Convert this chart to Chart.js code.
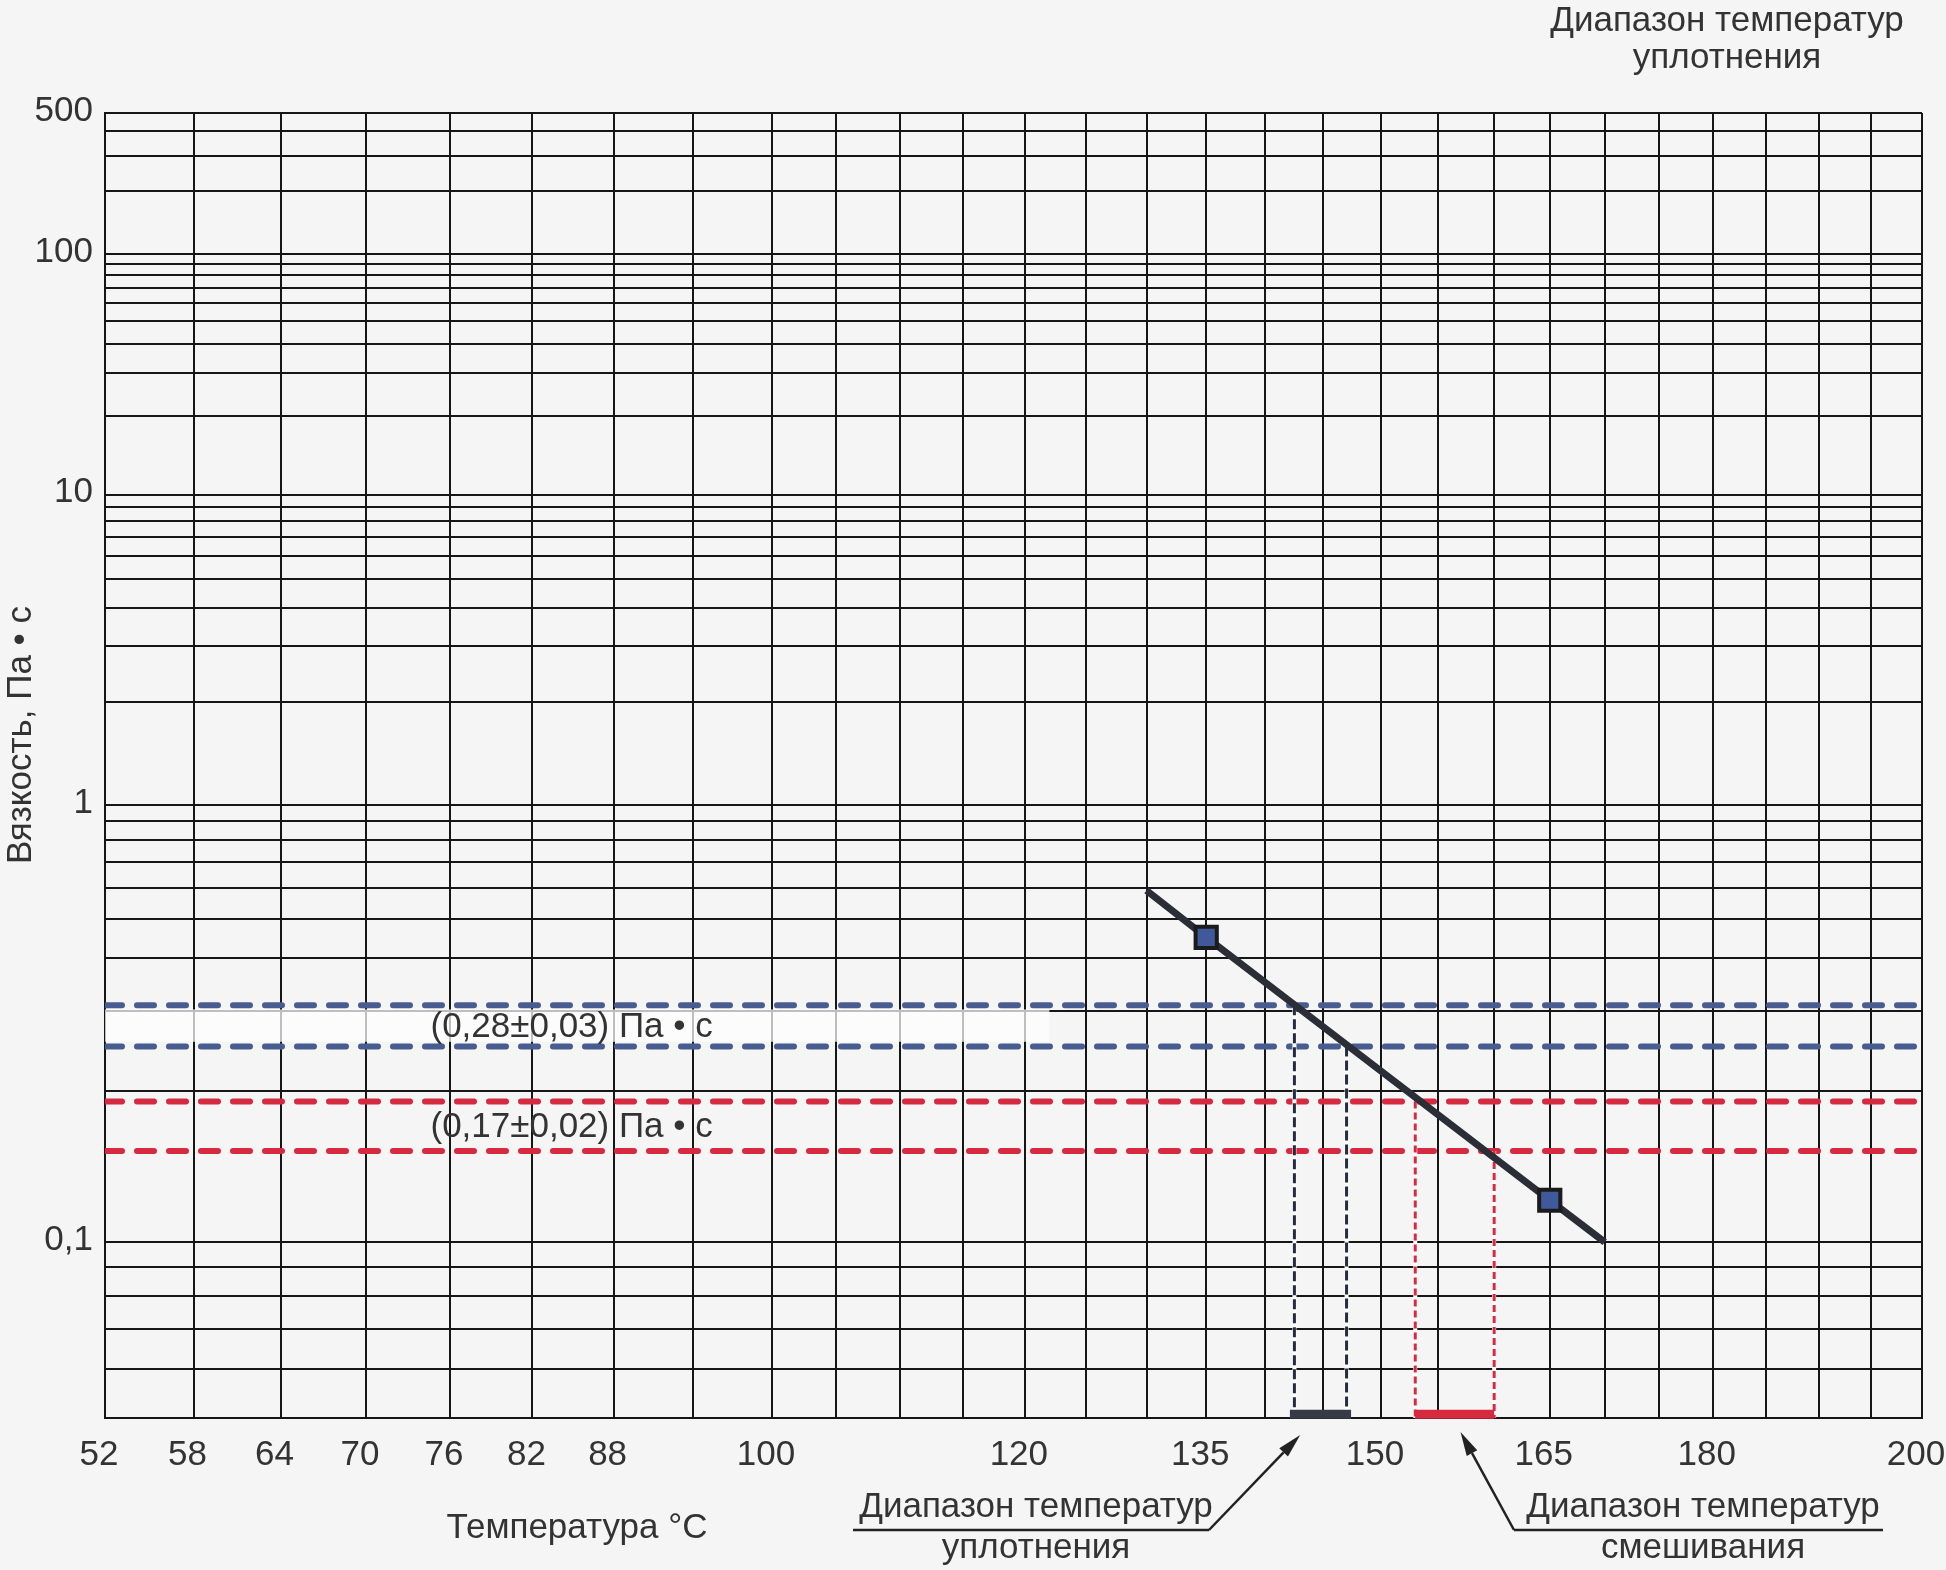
<!DOCTYPE html>
<html>
<head>
<meta charset="utf-8">
<script src="https://cdn.jsdelivr.net/npm/chart.js@4.4.0/dist/chart.umd.min.js"></script>
<style>
body { margin: 0; background: #f5f5f5; }
#wrap { width: 1946px; height: 1570px; }
</style>
</head>
<body>
<div id="wrap"><canvas id="chart" width="1946" height="1570"></canvas></div>
<script>
// grid and tick values
const gridTemps = [52, 58, 64, 70, 76, 82, 88, 94, 100, 105, 110, 115, 120, 125, 130, 135, 140, 145,
    150, 155, 160, 165, 170, 175, 180, 185, 190, 195, 200];
const tempLabels = [52, 58, 64, 70, 76, 82, 88, 100, 120, 135, 150, 165, 180, 200];
const gridVisc = [500, 400, 300, 200, 100, 90, 80, 70, 60, 50, 40, 30, 20, 10, 9, 8, 7, 6, 5, 4, 3, 2,
    1, 0.9, 0.8, 0.7, 0.6, 0.5, 0.4, 0.3, 0.2, 0.1, 0.09, 0.08, 0.07, 0.06, 0.05];
const viscLabels = [500, 100, 10, 1, 0.1];

// viscosity line (°C, Pa·s)
const lineTemps = [130, 135, 165, 170];
const lineVisc = [0.59, 0.45, 0.12, 0.1];
const pointTemps = [135, 165];
const pointVisc = [0.45, 0.12];

// target viscosity bands and the temperature ranges they give
const compactionVisc = [0.31, 0.25];
const mixingVisc = [0.19, 0.15];
const compactionTemps = [142.5, 147];
const mixingTemps = [153, 160];
const baseVisc = 0.05;
const barVisc = 0.0507;
const bandLabels = ['(0,28±0,03) Па • с', '(0,17±0,02) Па • с'];
const bandLabelVisc = [0.28, 0.17];
const bandLabelTemp = 74.6;
const labelBoxTemps = [52, 122];
const labelBoxVisc = [0.3, 0.256];
const arrowTemps = [143, 157];

// chart axes are log(T+273) and log(log(cP))
const tx = t => Math.log10(t + 273.15);
const ty = v => Math.log10(Math.log10(v * 1000));

const TEXT = '#333333';
const GRID = '#161616';
const FONT = '"Liberation Sans", Arial, sans-serif';
const FSIZE = 35;

function hLine(v, color) {
    return {
        data: [{x: tx(52), y: ty(v)}, {x: tx(200), y: ty(v)}],
        showLine: true, borderColor: color, borderWidth: 6,
        borderDash: [17, 15], borderCapStyle: 'round',
        pointRadius: 0, order: 3
    };
}
function vLine(t, v, color, dash) {
    const data = [{x: tx(t), y: ty(v)}, {x: tx(t), y: ty(baseVisc)}];
    return [
        {data: data, showLine: true, borderColor: color, borderWidth: 3, borderDash: dash,
            pointRadius: 0, order: 2},
        {data: data, showLine: true, borderColor: '#ffffff', borderWidth: 4,
            pointRadius: 0, order: 2.5}
    ];
}
function bar(temps, color, cap) {
    return {
        data: [{x: tx(temps[0]), y: ty(barVisc)}, {x: tx(temps[1]), y: ty(barVisc)}],
        showLine: true, borderColor: color, borderWidth: 9, borderCapStyle: cap,
        pointRadius: 0, clip: false, order: 1.5
    };
}

const datasets = [
    {
        data: pointTemps.map((t, i) => ({x: tx(t), y: ty(pointVisc[i])})),
        showLine: false, pointStyle: 'rect', pointRadius: 15,
        pointBackgroundColor: '#40599a', pointBorderColor: '#1b1b1b', pointBorderWidth: 4,
        order: 0
    },
    {
        data: lineTemps.map((t, i) => ({x: tx(t), y: ty(lineVisc[i])})),
        showLine: true, borderColor: '#2b2e36', borderWidth: 7, pointRadius: 0, order: 1
    },
    hLine(compactionVisc[0], '#475c8f'),
    hLine(compactionVisc[1], '#475c8f'),
    hLine(mixingVisc[0], '#d62a40'),
    hLine(mixingVisc[1], '#d62a40'),
    ...vLine(compactionTemps[0], compactionVisc[0], '#262b3f', [10, 4]),
    ...vLine(compactionTemps[1], compactionVisc[1], '#262b3f', [10, 4]),
    ...vLine(mixingTemps[0], mixingVisc[0], '#d62a40', [7, 4]),
    ...vLine(mixingTemps[1], mixingVisc[1], '#d62a40', [7, 4]),
    bar(compactionTemps, '#363b47', 'square'),
    bar(mixingTemps, '#d62a40', 'butt')
];

function drawArrow(ctx, x0, y0, x1, y1) {
    const a = Math.atan2(y1 - y0, x1 - x0);
    const len = 24, half = 6;
    const bx = x1 - len * Math.cos(a), by = y1 - len * Math.sin(a);
    ctx.beginPath();
    ctx.moveTo(x0, y0);
    ctx.lineTo(bx, by);
    ctx.stroke();
    ctx.beginPath();
    ctx.moveTo(x1, y1);
    ctx.lineTo(bx + half * Math.sin(a), by - half * Math.cos(a));
    ctx.lineTo(bx - half * Math.sin(a), by + half * Math.cos(a));
    ctx.closePath();
    ctx.fill();
}

const bgPlugin = {
    id: 'bg',
    beforeDraw(c) {
        const ctx = c.ctx;
        ctx.save();
        ctx.fillStyle = '#f5f5f5';
        ctx.fillRect(0, 0, c.width, c.height);
        ctx.restore();
    }
};

const bandPlugin = {
    id: 'band',
    beforeDatasetsDraw(c) {
        const ctx = c.ctx, xs = c.scales.x, ys = c.scales.y;
        const x0 = xs.getPixelForValue(tx(labelBoxTemps[0]));
        const x1 = xs.getPixelForValue(tx(labelBoxTemps[1]));
        const y0 = ys.getPixelForValue(ty(labelBoxVisc[0])) - 2;
        const y1 = ys.getPixelForValue(ty(labelBoxVisc[1]));
        ctx.save();
        ctx.fillStyle = 'rgba(255,255,255,0.72)';
        ctx.fillRect(x0, y0, x1 - x0, y1 - y0);
        ctx.restore();
    }
};

const notesPlugin = {
    id: 'notes',
    afterDraw(c) {
        const ctx = c.ctx, xs = c.scales.x, ys = c.scales.y;
        ctx.save();
        ctx.fillStyle = TEXT;
        ctx.strokeStyle = '#222222';
        ctx.font = FSIZE + 'px ' + FONT;
        ctx.textBaseline = 'middle';

        // band labels
        ctx.textAlign = 'left';
        bandLabels.forEach((s, i) => {
            ctx.fillText(s, xs.getPixelForValue(tx(bandLabelTemp)), ys.getPixelForValue(ty(bandLabelVisc[i])) + 3);
        });

        ctx.textAlign = 'center';
        // top-right note
        ctx.fillText('Диапазон температур', 1727, 21);
        ctx.fillText('уплотнения', 1727, 58);
        // axis titles
        ctx.fillText('Температура °C', 577, 1528);
        ctx.save();
        ctx.translate(21, 735);
        ctx.rotate(-Math.PI / 2);
        ctx.fillText('Вязкость, Па • с', 0, 0);
        ctx.restore();

        // callouts
        ctx.fillText('Диапазон температур', 1036, 1507);
        ctx.fillText('уплотнения', 1036, 1548);
        ctx.fillText('Диапазон температур', 1703, 1507);
        ctx.fillText('смешивания', 1703, 1548);

        ctx.lineWidth = 2.5;
        ctx.fillStyle = '#222222';
        const bottom = c.chartArea.bottom;
        ctx.beginPath();
        ctx.moveTo(853, 1530); ctx.lineTo(1209, 1530);
        ctx.moveTo(1514, 1530); ctx.lineTo(1883, 1530);
        ctx.stroke();
        drawArrow(ctx, 1209, 1530, xs.getPixelForValue(tx(arrowTemps[0])), bottom + 17);
        drawArrow(ctx, 1514, 1530, xs.getPixelForValue(tx(arrowTemps[1])), bottom + 14);
        ctx.restore();
    }
};

new Chart(document.getElementById('chart'), {
    type: 'scatter',
    data: {datasets: datasets},
    plugins: [bgPlugin, bandPlugin, notesPlugin],
    options: {
        responsive: false,
        animation: false,
        events: [],
        layout: {padding: {left: 0, right: 24, top: 113, bottom: 0}},
        plugins: {legend: {display: false}, tooltip: {enabled: false}},
        scales: {
            x: {
                type: 'linear',
                min: tx(52),
                max: tx(200),
                afterBuildTicks: s => { s.ticks = gridTemps.map(t => ({value: tx(t), temp: t})); },
                afterFit: s => { s.height = 152; s.paddingLeft = 0; s.paddingRight = 0; },
                grid: {color: GRID, lineWidth: 2, drawTicks: false},
                border: {display: true, color: GRID, width: 2},
                ticks: {
                    autoSkip: false, maxRotation: 0, padding: 16, labelOffset: -6,
                    color: TEXT, font: {family: FONT, size: FSIZE},
                    callback: (v, i, ticks) => tempLabels.includes(ticks[i].temp) ? String(ticks[i].temp) : ''
                }
            },
            y: {
                type: 'linear',
                min: ty(0.05),
                max: ty(500),
                afterBuildTicks: s => {
                    s.ticks = [...gridVisc].sort((a, b) => a - b).map(v => ({value: ty(v), visc: v}));
                },
                afterFit: s => { s.width = 105; s.paddingTop = 0; s.paddingBottom = 0; },
                grid: {color: GRID, lineWidth: 2, drawTicks: false},
                border: {display: true, color: GRID, width: 2},
                ticks: {
                    autoSkip: false, padding: 12, labelOffset: -2,
                    color: TEXT, font: {family: FONT, size: FSIZE},
                    callback: (v, i, ticks) => viscLabels.includes(ticks[i].visc)
                        ? String(ticks[i].visc).replace('.', ',') : ''
                }
            }
        }
    }
});
</script>
</body>
</html>
